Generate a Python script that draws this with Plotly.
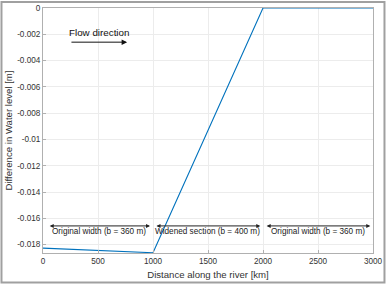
import plotly.graph_objects as go

distance_km = [0, 1000, 2000, 3000]
water_level_diff = [-0.01827, -0.01862, 0.0, 0.0]

x_ticks = [0, 500, 1000, 1500, 2000, 2500, 3000]
y_ticks = [0, -0.002, -0.004, -0.006, -0.008, -0.01, -0.012, -0.014, -0.016, -0.018]
y_tick_text = ["0", "-0.002", "-0.004", "-0.006", "-0.008", "-0.01", "-0.012", "-0.014", "-0.016", "-0.018"]

section_starts = [48, 1018, 2020]
section_ends = [973, 1975, 2975]
section_labels = ["Original width (b = 360 m)", "Widened section (b = 400 m)", "Original width (b = 360 m)"]
section_arrow_y = -0.01658
section_text_y = -0.01697

flow_text = "Flow direction"

fig = go.Figure()
fig.add_trace(go.Scatter(x=distance_km, y=water_level_diff, mode="lines",
                         line=dict(color="#0072BD", width=1.1), showlegend=False,
                         hoverinfo="skip"))

font = "Liberation Sans, Arial, sans-serif"
ann = []
for s, e, lab in zip(section_starts, section_ends, section_labels):
    ann.append(dict(x=e, y=section_arrow_y, ax=s, ay=section_arrow_y, xref="x", yref="y",
                    axref="x", ayref="y", text="", showarrow=True, arrowhead=2,
                    arrowside="end+start", arrowsize=0.8, arrowwidth=1, arrowcolor="#222"))
    ann.append(dict(x=(s + e) / 2, y=section_text_y, xref="x", yref="y", text=lab,
                    showarrow=False, font=dict(size=8.2, color="#222", family=font)))
ann.append(dict(x=765, y=-0.0026, ax=245, ay=-0.0026, xref="x", yref="y", axref="x", ayref="y",
                text="", showarrow=True, arrowhead=2, arrowsize=1.1, arrowwidth=1, arrowcolor="#111"))
ann.append(dict(x=505, y=-0.00187, xref="x", yref="y", text=flow_text, showarrow=False,
                font=dict(size=9.8, color="#111", family=font)))

axis_common = dict(showgrid=True, gridcolor="#ececec", gridwidth=1, showline=True,
                   linecolor="#b0b0b0", linewidth=1, mirror=True, ticks="inside",
                   ticklen=3, tickcolor="#b0b0b0", zeroline=False, automargin=False,
                   tickfont=dict(size=8.2, color="#333", family=font))

fig.update_layout(
    width=386, height=284,
    margin=dict(l=43, r=13, t=8, b=31),
    paper_bgcolor="white", plot_bgcolor="white",
    annotations=ann,
    xaxis=dict(range=[0, 3000], tickvals=x_ticks, ticktext=[str(v) for v in x_ticks],
               title=dict(text="Distance along the river [km]", standoff=6,
                          font=dict(size=9.6, color="#333", family=font)), **axis_common),
    yaxis=dict(range=[-0.01864, 0], tickvals=y_ticks, ticktext=y_tick_text,
               title=dict(text="Difference in Water level [m]", standoff=2,
                          font=dict(size=9.6, color="#333", family=font)), **axis_common),
    shapes=[dict(type="rect", xref="paper", yref="paper", x0=-0.1258, x1=1.0348,
                 y0=-0.1204, y1=1.0245, line=dict(color="#a0a0a0", width=2), layer="above")],
)

fig.write_html("out.html")
